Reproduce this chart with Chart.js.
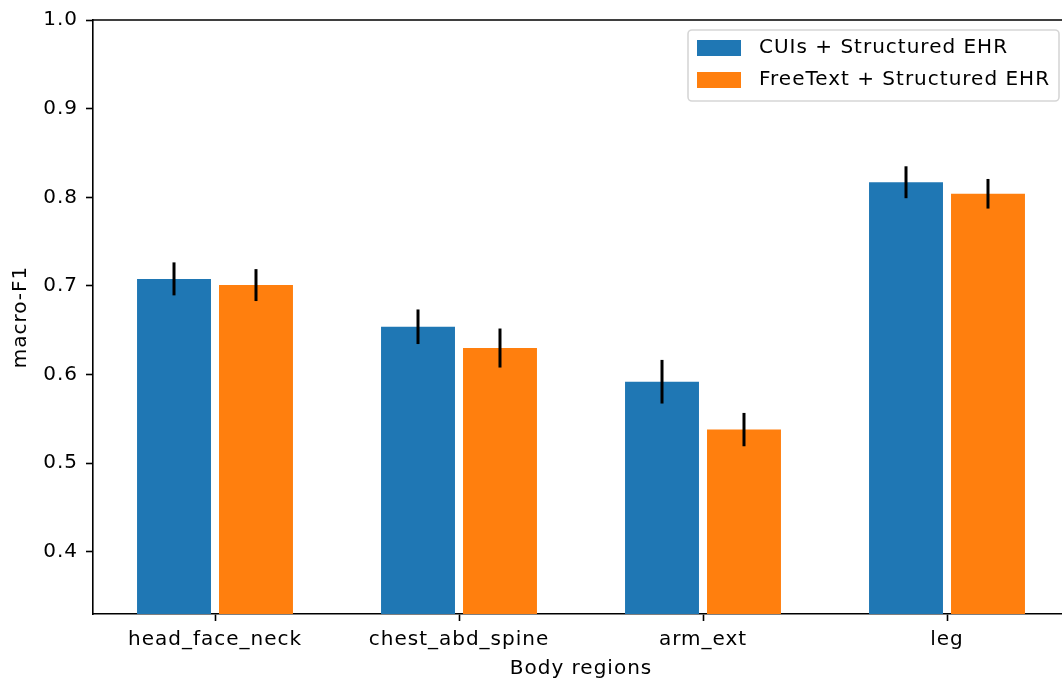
<!DOCTYPE html>
<html>
<head>
<meta charset="utf-8">
<script src="https://cdn.jsdelivr.net/npm/chart.js@4"></script>
<style>
  html, body { margin: 0; padding: 0; background: #fff; overflow: hidden; }
  #wrap { width: 1072px; height: 684px; }
</style>
</head>
<body>
<div id="wrap"><canvas id="chart"></canvas></div>
<script>
// Body regions on the x axis
const regions = ['head_face_neck', 'chest_abd_spine', 'arm_ext', 'leg'];

// macro-F1 means and error (half length)
const cuiValues = [0.708, 0.654, 0.592, 0.817];
const cuiErrors = [0.0186, 0.0195, 0.0246, 0.018];
const freeTextValues = [0.701, 0.630, 0.538, 0.804];
const freeTextErrors = [0.018, 0.022, 0.0188, 0.0167];

const yTicks = [0.4, 0.5, 0.6, 0.7, 0.8, 0.9, 1.0];

Chart.defaults.font.family = '"DejaVu Sans", sans-serif';
Chart.defaults.font.size = 20;
Chart.defaults.color = '#000';

// matplotlib lays text out a bit wider than the browser does
const spacing = {
  id: 'spacing',
  beforeUpdate(chart) { chart.ctx.letterSpacing = '1px'; },
  beforeDraw(chart) { chart.ctx.letterSpacing = '1px'; }
};

// draw the black error bars on top of each bar
const errorBars = {
  id: 'errorBars',
  afterDatasetsDraw(chart) {
    const ctx = chart.ctx;
    const yScale = chart.scales.y;
    ctx.save();
    ctx.strokeStyle = '#000';
    ctx.lineWidth = 3;
    chart.data.datasets.forEach((ds, i) => {
      const meta = chart.getDatasetMeta(i);
      meta.data.forEach((bar, j) => {
        const v = ds.data[j];
        const e = ds.errors[j];
        ctx.beginPath();
        ctx.moveTo(bar.x, yScale.getPixelForValue(v + e));
        ctx.lineTo(bar.x, yScale.getPixelForValue(v - e));
        ctx.stroke();
      });
    });
    ctx.restore();
  }
};

// top/right spines and the boxed legend in the upper right
const frameAndLegend = {
  id: 'frameAndLegend',
  afterDraw(chart) {
    const ctx = chart.ctx;
    const area = chart.chartArea;
    ctx.save();
    ctx.strokeStyle = '#000';
    ctx.lineWidth = 1.6;
    ctx.beginPath();
    ctx.moveTo(area.left, area.top);
    ctx.lineTo(area.right, area.top);
    ctx.lineTo(area.right, area.bottom);
    ctx.stroke();

    // legend box
    const bx = 688, by = 30, bw = 371, bh = 71;
    ctx.beginPath();
    ctx.roundRect(bx, by, bw, bh, 4);
    ctx.fillStyle = 'rgba(255,255,255,0.8)';
    ctx.fill();
    ctx.strokeStyle = '#d6d6d6';
    ctx.lineWidth = 1.6;
    ctx.stroke();

    ctx.font = '20px "DejaVu Sans", sans-serif';
    ctx.letterSpacing = '1px';
    ctx.textBaseline = 'middle';
    ctx.textAlign = 'left';
    chart.data.datasets.forEach((ds, i) => {
      const cy = 48 + i * 32;
      ctx.fillStyle = ds.backgroundColor;
      ctx.fillRect(697, cy - 8, 44, 16);
      ctx.fillStyle = '#000';
      ctx.fillText(ds.label, 759, cy);
    });
    ctx.restore();
  }
};

new Chart(document.getElementById('chart'), {
  type: 'bar',
  data: {
    labels: regions,
    datasets: [
      {
        label: 'CUIs + Structured EHR',
        data: cuiValues,
        errors: cuiErrors,
        backgroundColor: '#1f77b4',
        categoryPercentage: 0.672,
        barPercentage: 0.902
      },
      {
        label: 'FreeText + Structured EHR',
        data: freeTextValues,
        errors: freeTextErrors,
        backgroundColor: '#ff7f0e',
        categoryPercentage: 0.672,
        barPercentage: 0.902
      }
    ]
  },
  options: {
    responsive: true,
    maintainAspectRatio: false,
    animation: false,
    layout: { padding: { left: 0, top: 19, right: 3, bottom: 0 } },
    plugins: {
      legend: { display: false },
      tooltip: { enabled: false }
    },
    scales: {
      x: {
        grid: {
          offset: false,
          drawOnChartArea: false,
          drawTicks: true,
          tickLength: 7,
          tickWidth: 1.6,
          tickColor: '#000'
        },
        border: { display: true, color: '#000', width: 1.6 },
        ticks: { padding: 7, maxRotation: 0 },
        title: { display: true, text: 'Body regions', padding: { top: 0, bottom: 3 } },
        afterFit(scale) { scale.height = 70; }
      },
      y: {
        min: 0.33,
        max: 1.0,
        grid: {
          drawOnChartArea: false,
          drawTicks: true,
          tickLength: 7,
          tickWidth: 1.6,
          tickColor: '#000'
        },
        border: { display: true, color: '#000', width: 1.6 },
        afterBuildTicks(scale) {
          scale.ticks = yTicks.map(v => ({ value: v }));
        },
        ticks: {
          padding: 8,
          callback: (v) => Number(v).toFixed(1)
        },
        title: { display: true, text: 'macro-F1', padding: { top: 9, bottom: 0 } },
        afterFit(scale) { scale.width = 93; }
      }
    }
  },
  plugins: [spacing, errorBars, frameAndLegend]
});
</script>
</body>
</html>
